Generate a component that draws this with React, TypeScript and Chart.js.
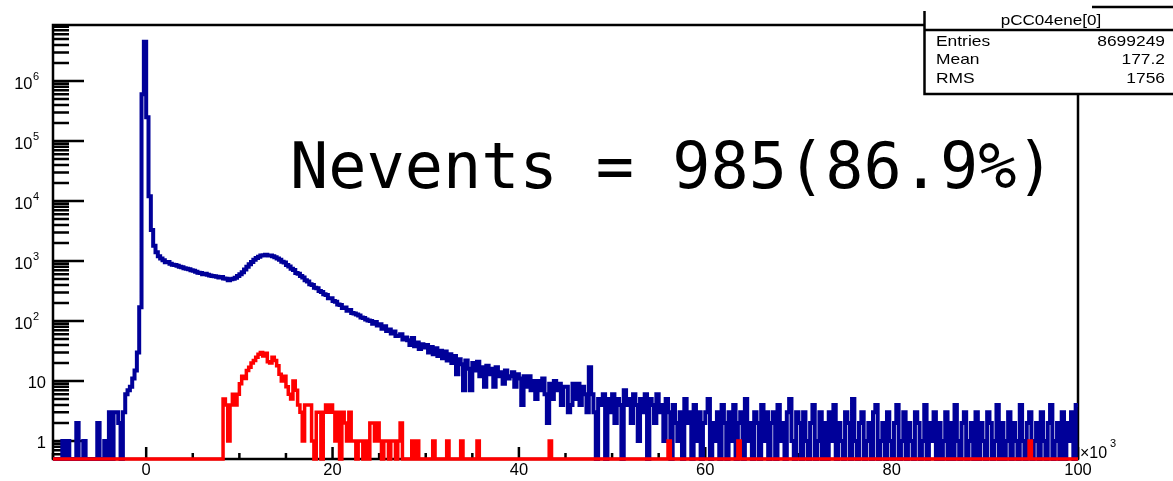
import { useEffect, useRef } from "react";
import { Chart, registerables } from "chart.js";

Chart.register(...registerables);

// ---- axis ranges (×10^3 on x, counts on log y) ----
const X_MIN = -10;
const X_MAX = 100;
const BIN_WIDTH = 0.25;
const Y_MIN = 0.5012;
const Y_MAX = 8.58e6;

const xTickLabels = [0, 20, 40, 60, 80, 100];
const xMinorStep = 5;
const yDecades = [0, 1, 2, 3, 4, 5, 6];

const statsTitle = "pCC04ene[0]";
const statsNames = ["Entries", "Mean", "RMS"];
const statsValues = ["8699249", "177.2", "1756"];
const annotation = "Nevents = 985(86.9%)";

// ---- blue histogram (all events), bins of 0.25 from -10 ----
const blueLeft = [0, 0, 0, 0, 1, 0, 1, 0, 0, 0, 2, 0, 0, 1, 0, 0, 0, 0, 0, 2, 0, 0, 1, 0, 3, 0, 3, 3, 2, 0, 3, 6];
const blueRise = [7, 8, 11, 15, 30, 170, 600000, 4500000, 250000, 12000, 3300, 1800];
const blueShoulder = [
  1400, 1200, 1100, 1030,
  950, 960, 900, 870,
  860, 830, 800, 790,
  760, 740, 730, 700,
  690, 660, 640, 630,
  600, 615, 590, 575,
  560, 555, 545, 530,
  540, 510, 505, 480,
  495, 505, 525, 560,
  600, 650, 720, 800,
  880, 960, 1050, 1120,
  1180, 1230, 1250, 1270,
  1240, 1230, 1200, 1150,
  1100, 1050, 970, 940,
  860, 810, 740, 710,
  630, 615, 560, 530,
  480, 455, 410, 400,
  360, 350, 315, 305,
  280, 270, 240, 240,
  215, 210, 188, 184,
  165, 168, 148, 152,
  136, 134, 128, 124,
  114, 112, 106, 102,
  100, 90, 96, 84,
  88, 74, 82, 68,
  72, 62, 67, 56,
  57, 60, 49, 53,
];
const blueMid = [
  48, 40, 52, 38,
  44, 34, 41, 36,
  40, 30, 37, 28,
  35, 26, 32, 24,
  31, 22, 28, 20,
  26, 13, 23, 19,
  7, 22, 16, 7,
  20, 15, 21, 12,
  17, 8, 18, 13,
  16, 8, 17, 12,
  14, 9, 15, 11,
  12, 14, 8, 13,
  11, 4, 12, 8,
  12, 7, 10, 5,
  10, 7, 11, 6,
  2, 9, 5, 10,
  7, 9, 4, 8,
  8, 3, 4, 9,
  5, 9, 4, 8,
  6, 3, 17, 6,
  3, 0, 5,
];
const blueTail1 = [4, 6, 0, 5, 3, 6, 2, 5, 4, 0, 7, 4, 5, 2, 6, 4, 1, 5, 3, 6, 0, 5, 4, 2, 6, 3, 4, 1, 5];
const blueTail2 = [
  3, 0, 4, 2, 1, 3, 0, 5, 2, 3, 0, 4, 1, 3, 0, 2, 3, 5, 0, 2,
  1, 3, 0, 4, 2, 0, 3, 1, 4, 0, 2, 3, 0, 5, 1, 2, 0, 3, 2, 0,
  4, 1, 3, 0, 2, 3, 0, 4, 1, 2, 0, 3, 5, 1, 0, 3,
];
const blueTail3 = [
  2, 0, 3, 1, 0, 2, 4, 0, 1, 3, 0, 2, 0, 3, 1, 4, 0, 2, 1, 0,
  3, 2, 0, 5, 1, 0, 2, 3, 0, 1, 2, 0, 3, 4, 0, 1, 2, 0, 3, 1,
  0, 2, 4, 0, 1, 3, 0, 2, 1, 0, 3, 2, 0, 1, 4, 0, 2, 1, 3, 0,
];
const blueTail4 = [
  2, 0, 1, 3, 0, 2, 0, 4, 1, 0, 2, 3, 0, 1, 2, 0, 3, 0, 2, 1,
  0, 3, 2, 0, 1, 4, 0, 2, 0, 1, 3, 0, 2, 1, 0, 4, 1, 0, 2, 3,
  0, 1, 2, 0, 3, 1, 0, 2, 4, 0, 1, 2, 0, 3, 0, 2, 1, 3, 0, 4,
];

// ---- red histogram (selected events) ----
const redBumpStart = 8.25;
const redBump = [
  5, 4, 1, 4, 6, 4, 6, 9,
  12, 11, 15, 17, 20, 22, 25, 28,
  30, 26, 29, 21, 20, 25, 22, 18,
  13, 10, 12, 8, 6, 5, 10, 7,
  4, 3, 1, 4, 4, 4, 1, 0,
  3, 3, 0, 3, 4, 3, 4, 3,
  1, 3, 0, 3, 2, 1, 3, 1,
  1, 0, 1, 1, 0, 1, 0, 2,
  2, 1, 2, 1, 0, 1, 1, 0,
  1, 1, 0, 1, 2, 0, 0,
];
const redSingleBins = [28.5, 29.0, 30.75, 32.25, 33.75, 35.5, 43.25, 56.0, 63.5, 94.75];

const BLUE = "#000099";
const RED = "#ff0000";

function stepPoints(values: number[]) {
  const pts = values.map((v, i) => ({ x: X_MIN + i * BIN_WIDTH, y: v > 0 ? v : Y_MIN }));
  pts.push({ x: X_MIN + values.length * BIN_WIDTH, y: pts[pts.length - 1].y });
  return pts;
}

function buildRed(): number[] {
  const n = Math.round((X_MAX - X_MIN) / BIN_WIDTH);
  const arr = new Array(n).fill(0);
  const s = Math.round((redBumpStart - X_MIN) / BIN_WIDTH);
  redBump.forEach((v, i) => (arr[s + i] = v));
  redSingleBins.forEach((x) => (arr[Math.round((x - X_MIN) / BIN_WIDTH)] = 1));
  return arr;
}

function txt(ctx: CanvasRenderingContext2D, s: string, x: number, y: number, font: string, align: CanvasTextAlign, sx = 1) {
  ctx.save();
  ctx.font = font;
  ctx.textAlign = align;
  ctx.textBaseline = "alphabetic";
  ctx.fillStyle = "#000";
  ctx.translate(x, y);
  ctx.scale(sx, 1);
  ctx.fillText(s, 0, 0);
  ctx.restore();
}

const SANS = '"Liberation Sans", Arial, Helvetica, sans-serif';

const rootPlugin = {
  id: "rootFrame",
  beforeDatasetsDraw(chart: any) {
    const { ctx, chartArea: a } = chart;
    const xs = chart.scales.x;
    const ys = chart.scales.y;
    ctx.save();
    ctx.strokeStyle = "#000";
    ctx.lineWidth = 2.5;
    ctx.strokeRect(a.left, a.top, a.right - a.left, a.bottom - a.top);
    ctx.beginPath();
    for (let d = -1; d <= 7; d++) {
      for (let m = 1; m <= 9; m++) {
        const v = m * Math.pow(10, d);
        if (v < Y_MIN || v > Y_MAX) continue;
        const py = ys.getPixelForValue(v);
        const len = m === 1 ? 31 : 16;
        ctx.moveTo(a.left, py);
        ctx.lineTo(a.left + len, py);
      }
    }
    for (let t = X_MIN; t <= X_MAX + 1e-9; t += xMinorStep) {
      const px = xs.getPixelForValue(t);
      const len = t % 20 === 0 ? 12 : 6;
      ctx.moveTo(px, a.bottom);
      ctx.lineTo(px, a.bottom - len);
    }
    ctx.stroke();
    ctx.restore();
  },
  afterDraw(chart: any) {
    const { ctx, chartArea: a } = chart;
    const xs = chart.scales.x;
    const ys = chart.scales.y;
    // y labels
    yDecades.forEach((d) => {
      const py = ys.getPixelForValue(Math.pow(10, d));
      if (d === 0) txt(ctx, "1", 46, py + 7, `16.5px ${SANS}`, "right");
      else if (d === 1) txt(ctx, "10", 46, py + 7, `16.5px ${SANS}`, "right");
      else {
        txt(ctx, "10", 32.5, py + 7.5, `16.5px ${SANS}`, "right");
        txt(ctx, String(d), 33, py - 1, `11px ${SANS}`, "left");
      }
    });
    // x labels
    xTickLabels.forEach((t) => {
      txt(ctx, String(t), xs.getPixelForValue(t), 475, `16.5px ${SANS}`, "center");
    });
    txt(ctx, "\u00d710", a.right + 2, 458, `16px ${SANS}`, "left");
    txt(ctx, "3", a.right + 32, 447, `11px ${SANS}`, "left");

    // stats box
    ctx.save();
    ctx.fillStyle = "#fff";
    ctx.fillRect(924, 8, 260, 86);
    ctx.strokeStyle = "#000";
    ctx.lineWidth = 2.5;
    ctx.beginPath();
    ctx.moveTo(924.5, 11);
    ctx.lineTo(924.5, 94);
    ctx.lineTo(1175, 94);
    ctx.moveTo(924, 30);
    ctx.lineTo(1175, 30);
    ctx.moveTo(1092, 7);
    ctx.lineTo(1175, 7);
    ctx.stroke();
    ctx.restore();
    txt(ctx, statsTitle, 1051, 25, `14px ${SANS}`, "center", 1.22);
    const rowsY = [45.5, 63.5, 83];
    statsNames.forEach((n, i) => {
      txt(ctx, n, 936, rowsY[i], `14.5px ${SANS}`, "left", 1.2);
      txt(ctx, statsValues[i], 1165, rowsY[i], `14.5px ${SANS}`, "right", 1.2);
    });

    // annotation
    txt(ctx, annotation, 290, 188, `63.5px "DejaVu Sans Mono", monospace`, "left");
  },
};

export default function App() {
  const ref = useRef<HTMLCanvasElement | null>(null);
  useEffect(() => {
    if (!ref.current) return;
    const blue = [...blueLeft, ...blueRise, ...blueShoulder, ...blueMid, ...blueTail1, ...blueTail2, ...blueTail3, ...blueTail4];
    const red = buildRed();
    const common = {
      pointRadius: 0,
      stepped: true as const,
      fill: false,
      tension: 0,
      borderJoinStyle: "miter" as const,
      borderCapStyle: "butt" as const,
      clip: { left: 2, top: 0, right: 2, bottom: 4 },
    };
    const chart = new Chart(ref.current, {
      type: "line",
      data: {
        datasets: [
          { ...common, label: "selected", data: stepPoints(red), borderColor: RED, borderWidth: 3.5 },
          { ...common, label: "all", data: stepPoints(blue), borderColor: BLUE, borderWidth: 4 },
        ],
      },
      options: {
        animation: false,
        responsive: false,
        devicePixelRatio: 1,
        events: [],
        layout: { padding: { left: 53, right: 95, top: 25, bottom: 22 } },
        plugins: { legend: { display: false }, tooltip: { enabled: false }, title: { display: false } },
        scales: {
          x: { type: "linear", min: X_MIN, max: X_MAX, display: false },
          y: { type: "logarithmic", min: Y_MIN, max: Y_MAX, display: false },
        },
      },
      plugins: [rootPlugin],
    });
    return () => chart.destroy();
  }, []);
  return (
    <div style={{ position: "fixed", left: 0, top: 0, width: 1173, height: 481, background: "#fff" }}>
      <canvas ref={ref} width={1173} height={481} style={{ display: "block" }} />
    </div>
  );
}
